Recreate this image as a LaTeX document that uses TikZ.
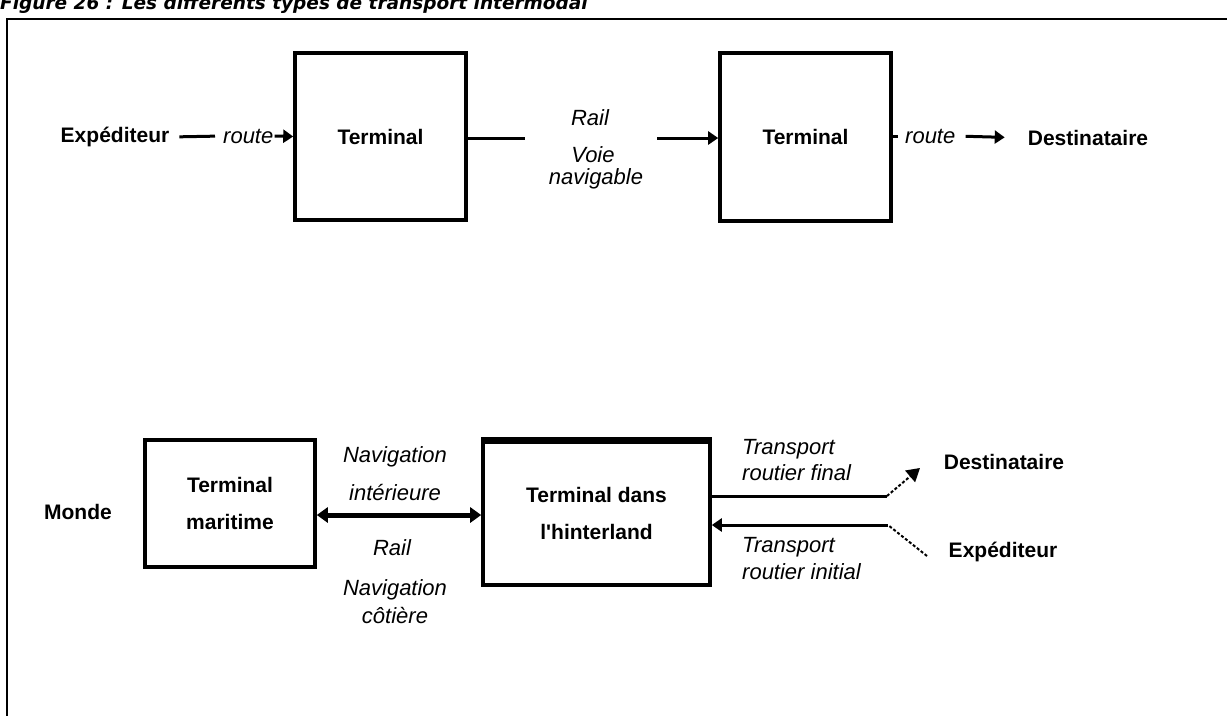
\documentclass[tikz,border=0pt]{standalone}
\usepackage{fontspec}
\setmainfont{Liberation Sans}
\newfontfamily\titlefont{DejaVu Sans}
\usetikzlibrary{arrows.meta}
\begin{document}
\begin{tikzpicture}[x=1pt,y=-1pt,
  lbl/.style={font=\fontsize{21}{25}\selectfont\bfseries, inner sep=0pt},
  mode/.style={font=\fontsize{22}{26}\selectfont\itshape, inner sep=0pt},
  term/.style={draw, line width=3.6pt, font=\fontsize{21}{37}\selectfont\bfseries, align=center, inner sep=0pt},
  conn/.style={line width=3pt},
  tipend/.style={-{Triangle[length=10pt,width=13pt]}},
  dashedroad/.style={line width=2pt, dash pattern=on 3pt off 2pt}]
\useasboundingbox (0,0) rectangle (1227,716);
\fill[white] (0,0) rectangle (1227,716);
\begin{scope}
\clip (0,0) rectangle (1227,716);
\node[anchor=base west, inner sep=0pt, font=\titlefont\fontsize{18.5}{22}\selectfont\bfseries\itshape] (title) at (0,9) {Figure 26 : Les différents types de transport intermodal};
\end{scope}
% frame
\draw[line width=1.5pt] (1227,19) -- (7,19) -- (7,716);

% ---- top row ----
\node[lbl] (exp1) at (115,137) {Expéditeur};
\node[mode, anchor=west] (route1) at (223,136) {route};
\node[term, minimum width=171pt, minimum height=167pt] (t1) at (380.5,136.5) {Terminal};
\node[term, minimum width=171pt, minimum height=168pt] (t2) at (805.5,137) {Terminal};
\node[mode] (rail1) at (590,118) {Rail};
\node[mode] (voie) at (593,155) {Voie};
\node[mode] (navig) at (596,179) {navigable};
\node[mode, anchor=west] (route2) at (905,136) {route};
\node[lbl] (dest1) at (1088,138) {Destinataire};
\coordinate (c1) at (525,138);
\coordinate (c2) at (657,138);

\draw[conn, shorten <=10pt, shorten >=8pt] (exp1.east) -- (route1.west);
\draw[conn, tipend, shorten <=1pt] (route1.east) -- (t1.west);
\draw[conn] (t1.east |- c1) -- (c1);
\draw[conn, tipend] (c2) -- (t2.west |- c2);
\draw[conn, shorten >=7pt] (t2.east |- route2.west) -- (route2.west);
\draw[conn, tipend, shorten <=10pt, shorten >=23pt] (route2.east) -- (dest1.west);

% ---- bottom row ----
\node[lbl] (monde) at (78,512) {Monde};
\node[term, minimum width=170pt, minimum height=127pt] (tm) at (230,503.5) {Terminal\\maritime};
\node[term, minimum width=227pt, minimum height=143pt] (th) at (596.5,513.5) {Terminal dans\\l\textquotesingle hinterland};
\draw[line width=6pt] (th.north west) -- (th.north east);

\node[mode] (navi1) at (395,457) {Navigation};
\node[mode] (inter) at (395,492) {intérieure};
\node[mode] (rail2) at (392,548) {Rail};
\node[mode] (navi2) at (395,590) {Navigation};
\node[mode] (cot) at (395,615) {côtière};

\draw[line width=5pt, {Triangle[length=11pt,width=15pt]}-{Triangle[length=11pt,width=15pt]}] (tm.east |- 0,515) -- (th.west |- 0,515);

\node[mode, anchor=west, align=left, font=\fontsize{22}{26}\selectfont\itshape] (trf) at (742,460) {Transport\\routier final};
\node[mode, anchor=west, align=left, font=\fontsize{22}{27}\selectfont\itshape] (tri) at (742,558.5) {Transport\\routier initial};
\node[lbl] (dest2) at (1004,462) {Destinataire};
\node[lbl] (exp2) at (1003,552) {Expéditeur};

\coordinate (u1) at (887,496);
\coordinate (u2) at (920,468);
\coordinate (l1) at (888,525);
\coordinate (l2) at (927,556);
\draw[conn] (th.east |- u1) -- (u1);
\draw[dashedroad, -{Triangle[length=13pt,width=15pt]}] (u1) -- (u2);
\draw[dashedroad] (l2) -- (l1);
\draw[conn, tipend] (l1) -- (th.east |- l1);
\end{tikzpicture}
\end{document}
